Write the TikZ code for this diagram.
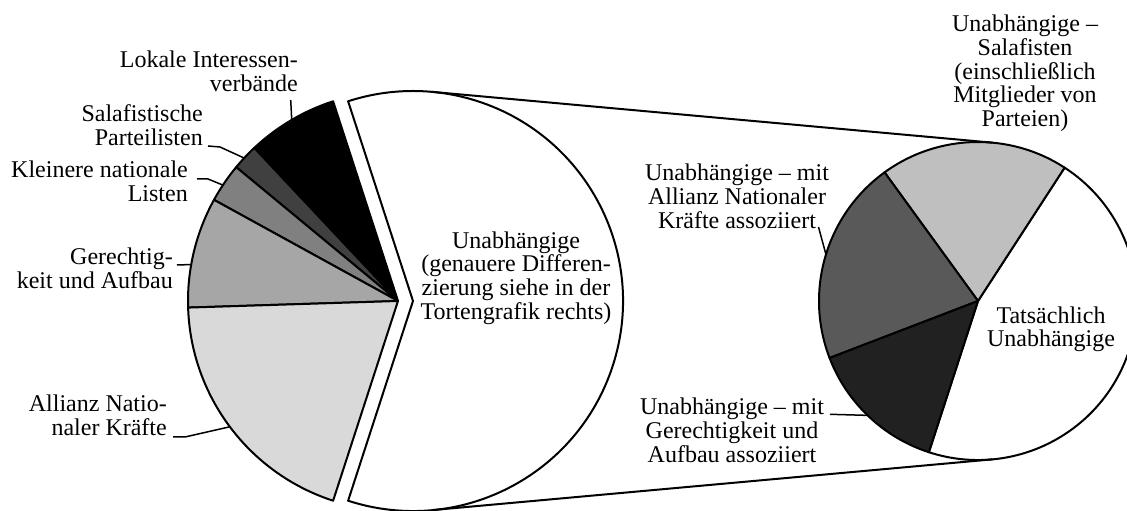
\documentclass[tikz,border=0pt]{standalone}
\usepackage{fontspec}
\setmainfont{Liberation Serif}
\usetikzlibrary{calc}
\begin{document}
\begin{tikzpicture}[x=1pt,y=1pt,
  pie/.style={draw=black, line width=2pt, line join=round},
  lbl/.style={inner sep=0pt, font=\fontsize{24}{23.7}\selectfont},
  leader/.style={draw=black, line width=1.5pt, line join=round},
  tangent/.style={draw=black, line width=2pt},
]
\useasboundingbox (0,0) rectangle (1127,511);
\def\ra{210}
\def\rb{159}
\coordinate (C1) at (398,210);
\coordinate (C2) at (413,210);
\coordinate (C3) at (978,210);
% left pie
\draw[pie, fill=black]        (C1) -- ($(C1)+(108:\ra)$)   arc[start angle=108,   end angle=133.2, radius=\ra] -- cycle;
\draw[pie, fill=black!75]     (C1) -- ($(C1)+(133.2:\ra)$) arc[start angle=133.2, end angle=140.4, radius=\ra] -- cycle;
\draw[pie, fill=black!50]     (C1) -- ($(C1)+(140.4:\ra)$) arc[start angle=140.4, end angle=151.2, radius=\ra] -- cycle;
\draw[pie, fill=black!35]     (C1) -- ($(C1)+(151.2:\ra)$) arc[start angle=151.2, end angle=181.8, radius=\ra] -- cycle;
\draw[pie, fill=black!15]     (C1) -- ($(C1)+(181.8:\ra)$) arc[start angle=181.8, end angle=252,   radius=\ra] -- cycle;
\draw[pie, fill=white]        (C2) -- ($(C2)+(-108:\ra)$)  arc[start angle=-108,  end angle=108,   radius=\ra] -- cycle;
% right pie
\draw[pie, fill=white]        (C3) -- ($(C3)+(-108:\rb)$)  arc[start angle=-108,  end angle=57,    radius=\rb] -- cycle;
\draw[pie, fill=black!25]     (C3) -- ($(C3)+(57:\rb)$)    arc[start angle=57,    end angle=126,   radius=\rb] -- cycle;
\draw[pie, fill=black!65]     (C3) -- ($(C3)+(126:\rb)$)   arc[start angle=126,   end angle=201,   radius=\rb] -- cycle;
\draw[pie, fill=black!87]     (C3) -- ($(C3)+(201:\rb)$)   arc[start angle=201,   end angle=252,   radius=\rb] -- cycle;
% tangent connectors
\coordinate (T1) at ($(C2)+(84.8:\ra)$);
\coordinate (T2) at ($(C3)+(84.8:\rb)$);
\coordinate (B1) at ($(C2)+(-84.8:\ra)$);
\coordinate (B2) at ($(C3)+(-84.8:\rb)$);
\draw[tangent] (T1) -- (T2);
\draw[tangent] (B1) -- (B2);
% labels (anchor = baseline of last line)
\node[lbl, align=right, anchor=base east] (lokale) at (298,419.3) {Lokale Interessen-\\verbände};
\node[lbl, align=right, anchor=base east] (salaf) at (203,365.6) {Salafistische\\Parteilisten};
\node[lbl, align=right, anchor=base east] (klein) at (188,309.3) {Kleinere nationale\\Listen};
\node[lbl, align=right, anchor=base east] (gerecht) at (173,222.3) {Gerechtig-\\keit und Aufbau};
\node[lbl, align=right, anchor=base east] (allianz) at (167,75.3) {Allianz Natio-\\naler Kräfte};
\node[lbl, align=center, anchor=base] (unab) at (516,191.6) {Unabhängige\\(genauere Differen-\\zierung siehe in der\\Tortengrafik rechts)};
\node[lbl, align=center, anchor=base] (salafi) at (1025,384.5) {Unabhängige –\\Salafisten\\(einschließlich\\Mitglieder von\\Parteien)};
\node[lbl, align=center, anchor=base] (anf) at (737,282.9) {Unabhängige – mit\\Allianz Nationaler\\Kräfte assoziiert};
\node[lbl, align=center, anchor=base] (tats) at (1051,164) {Tatsächlich\\Unabhängige};
\node[lbl, align=center, anchor=base] (jcp) at (732,48.6) {Unabhängige – mit\\Gerechtigkeit und\\Aufbau assoziiert};
% leader lines
\coordinate (l1a) at (290.7,411);
\coordinate (l1b) at ($(C1)+(120.4:\ra)$);
\draw[leader] (l1a) -- (l1b);
\coordinate (l2a) at (208,365);
\coordinate (l2m) at (220,364);
\coordinate (l2b) at ($(C1)+(137.1:\ra)$);
\draw[leader] (l2a) -- (l2m) -- (l2b);
\coordinate (l3a) at (197,332);
\coordinate (l3m) at (208,332);
\coordinate (l3b) at ($(C1)+(146.5:\ra)$);
\draw[leader] (l3a) -- (l3m) -- (l3b);
\coordinate (l4a) at (177,246);
\coordinate (l4b) at ($(C1)+(170:\ra)$);
\draw[leader] (l4a) -- (l4b);
\coordinate (l5a) at (173,74);
\coordinate (l5m) at (185,74);
\coordinate (l5b) at ($(C1)+(216.8:\ra)$);
\draw[leader] (l5a) -- (l5m) -- (l5b);
\coordinate (l6a) at (818.5,284);
\coordinate (l6b) at ($(C3)+(163:\rb)$);
\draw[leader] (l6a) -- (l6b);
\coordinate (l7a) at (830,96.7);
\coordinate (l7b) at ($(C3)+(226:\rb)$);
\draw[leader] (l7a) -- (l7b);
\end{tikzpicture}
\end{document}
